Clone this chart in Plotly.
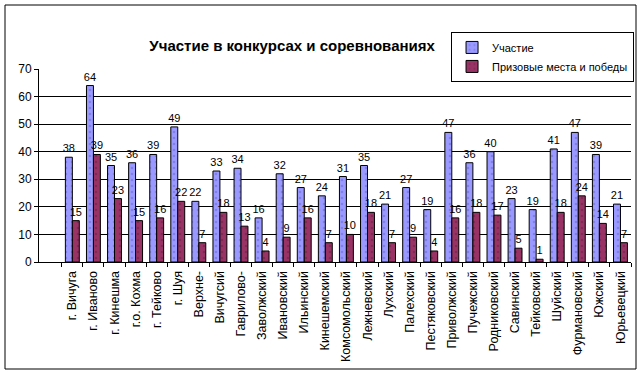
import plotly.graph_objects as go

categories = ["г. Вичуга", "г. Иваново", "г. Кинешма", "г.о. Кохма", "г. Тейково", "г. Шуя",
              "Верхне-", "Вичугсий", "Гаврилово-", "Заволжский", "Ивановский", "Ильинский",
              "Кинешемский", "Комсомольский", "Лежневский", "Лухский", "Палехский",
              "Пестяковский", "Приволжский", "Пучежский", "Родниковский", "Савинский",
              "Тейковский", "Шуйский", "Фурмановский", "Южский", "Юрьевецкий"]
participation = [38, 64, 35, 36, 39, 49, 22, 33, 34, 16, 32, 27, 24, 31, 35, 21, 27, 19,
                 47, 36, 40, 23, 19, 41, 47, 39, 21]
prizes = [15, 39, 23, 15, 16, 22, 7, 18, 13, 4, 9, 16, 7, 10, 18, 7, 9, 4, 16, 18, 17, 5,
          1, 18, 24, 14, 7]
y_ticks = [0, 10, 20, 30, 40, 50, 60, 70]
grid_ticks = [10, 20, 30, 40, 50, 60]

FONT = "Liberation Sans, Arial, sans-serif"

fig = go.Figure()
fig.add_trace(go.Bar(
    x=categories, y=participation, name="Участие",
    marker=dict(color="#9999FF", line=dict(color="black", width=1),
                pattern=dict(shape=".", fgcolor="#6666CC", size=6, solidity=0.15)),
    text=participation, textposition="outside", cliponaxis=False, constraintext="none",
    textfont=dict(family=FONT, size=11, color="black"),
))
fig.add_trace(go.Bar(
    x=categories, y=prizes, name="Призовые места и победы",
    marker=dict(color="#993366", line=dict(color="black", width=1),
                pattern=dict(shape=".", fgcolor="#662244", size=6, solidity=0.15)),
    text=prizes, textposition="outside", cliponaxis=False, constraintext="none",
    textfont=dict(family=FONT, size=11, color="black"),
))
# invisible trace to host the gridline axis
fig.add_trace(go.Scatter(x=categories[:1], y=[0], yaxis="y2", mode="markers",
                         marker=dict(opacity=0), showlegend=False, hoverinfo="skip"))

fig.update_layout(
    width=642, height=376,
    margin=dict(l=39, r=11, t=69, b=114, autoexpand=False),
    paper_bgcolor="white", plot_bgcolor="white",
    barmode="group", bargap=0.34, bargroupgap=0,
    font=dict(family=FONT, size=11, color="black"),
    title=dict(text="<b>Участие в конкурсах и соревнованиях</b>",
               x=0.455, xanchor="center", y=0.877, yanchor="middle",
               font=dict(family=FONT, size=15, color="black")),
    legend=dict(x=0.696, y=1.192, xanchor="left", yanchor="top",
                bordercolor="black", borderwidth=1, bgcolor="white",
                font=dict(family=FONT, size=11, color="black"),
                tracegroupgap=0, itemwidth=30),
    xaxis=dict(type="category", showline=True, linecolor="black", linewidth=1,
               ticks="outside", tickson="boundaries", ticklen=4, tickcolor="black",
               tickangle=-90, tickfont=dict(family=FONT, size=12.5), showgrid=False,
               ticklabelstandoff=3, automargin=False),
    yaxis=dict(range=[0, 70], tickvals=y_ticks, showline=True, linecolor="black",
               linewidth=1, ticks="outside", ticklen=4, tickcolor="black",
               showgrid=False, zeroline=False, tickfont=dict(family=FONT, size=12),
               automargin=False),
    yaxis2=dict(range=[0, 70], overlaying="y", tickvals=grid_ticks, showgrid=True,
                gridcolor="black", gridwidth=1, showticklabels=False, zeroline=False,
                layer="below traces", automargin=False),
    shapes=[dict(type="rect", xref="paper", yref="paper",
                 x0=(5 - 39) / 592, x1=(636 - 39) / 592,
                 y0=(262 - 369) / 193, y1=(262 - 5) / 193,
                 line=dict(color="black", width=1), fillcolor="rgba(0,0,0,0)")],
)

fig.write_html("out.html", config={"displayModeBar": False},
               post_script="document.body.style.margin='0px';")
